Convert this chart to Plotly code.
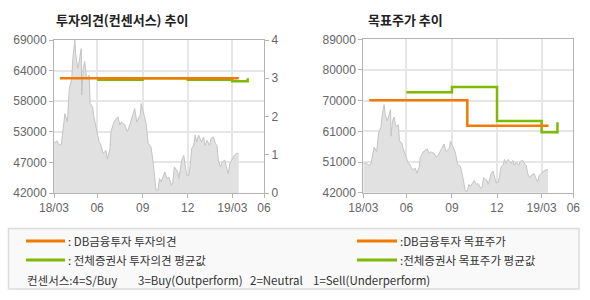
import plotly.graph_objects as go

# ---- data ----
price_dates = [
    "2018-03-06", "2018-03-08", "2018-03-12", "2018-03-15", "2018-03-19", "2018-03-21",
    "2018-03-23", "2018-03-26", "2018-03-28", "2018-04-02", "2018-04-04", "2018-04-06",
    "2018-04-11", "2018-04-13", "2018-04-17", "2018-04-19", "2018-04-23", "2018-04-26",
    "2018-04-30", "2018-05-01", "2018-05-04", "2018-05-07", "2018-05-11", "2018-05-16",
    "2018-05-18", "2018-05-23", "2018-05-25", "2018-05-31", "2018-06-05", "2018-06-08",
    "2018-06-13", "2018-06-19", "2018-06-22", "2018-06-27", "2018-06-29", "2018-07-05",
    "2018-07-10", "2018-07-13", "2018-07-17", "2018-07-20", "2018-07-27", "2018-08-01",
    "2018-08-06", "2018-08-10", "2018-08-16", "2018-08-20", "2018-08-23", "2018-08-27",
    "2018-08-29", "2018-09-03", "2018-09-05", "2018-09-08", "2018-09-12", "2018-09-18",
    "2018-09-22", "2018-09-25", "2018-09-28", "2018-10-02", "2018-10-05", "2018-10-08",
    "2018-10-12", "2018-10-16", "2018-10-20", "2018-10-24", "2018-10-29", "2018-11-01",
    "2018-11-04", "2018-11-08", "2018-11-11", "2018-11-13", "2018-11-16", "2018-11-19",
    "2018-11-23", "2018-11-26", "2018-11-29", "2018-12-03", "2018-12-06", "2018-12-09",
    "2018-12-13", "2018-12-16", "2018-12-19", "2018-12-23", "2018-12-26", "2018-12-29",
    "2019-01-02", "2019-01-05", "2019-01-09", "2019-01-14", "2019-01-17", "2019-01-22",
    "2019-01-26", "2019-01-29", "2019-02-01", "2019-02-05", "2019-02-09", "2019-02-14",
    "2019-02-17", "2019-02-21", "2019-02-24", "2019-02-28", "2019-03-05", "2019-03-10",
    "2019-03-14",
]
price_values = [
    51000, 50900, 51200, 50600, 50500, 50600,
    52200, 54000, 56000, 54550, 57500, 60450,
    62200, 65760, 69000, 66300, 64000, 65200,
    67500, 59300, 64000, 65200, 62200, 62800,
    57800, 57200, 55700, 52800, 51000, 50700,
    49000, 49500, 48000, 49850, 52800, 54550,
    55150, 55450, 54000, 54550, 54000, 52800,
    54000, 55150, 56900, 54550, 55150, 55700,
    57800, 56000, 55700, 54300, 50800, 50100,
    47500, 45100, 42500, 42500, 44550, 43950,
    44800, 45700, 44550, 44800, 43350, 43950,
    46600, 46000, 45700, 44550, 46300, 47800,
    48650, 47200, 45100, 45100, 46900, 49850,
    50400, 52200, 51000, 52200, 51600, 51000,
    51900, 50400, 51300, 50400, 51600, 51900,
    50700, 50400, 47800, 46600, 47500, 47800,
    46600, 45400, 47200, 47800, 48650, 49000,
    49000,
]

# investment opinion (consensus)
db_opinion_dates = ["2018-03-18", "2019-03-14"]
db_opinion_values = [3.0, 3.0]
avg_opinion_dates = ["2018-06-01", "2018-09-01", "2018-12-01", "2019-03-01", "2019-04-01"]
avg_opinion_values = [2.96, 3.0, 2.96, 2.92, 3.0]

# target price
db_target_dates = ["2018-03-18", "2018-10-02", "2019-03-15"]
db_target_values = [70300, 62500, 62500]
avg_target_dates = ["2018-06-01", "2018-09-01", "2018-12-01", "2019-03-01", "2019-04-02"]
avg_target_values = [72800, 74400, 64000, 60500, 63600]

x_range = ["2018-03-06", "2019-05-04"]
x_tickvals = ["2018-03-06", "2018-06-01", "2018-09-01", "2018-12-01", "2019-03-01", "2019-05-04"]
x_ticktext = ["18/03", "06", "09", "12", "19/03", "06"]

left_yvals = [42000, 47400, 52800, 58200, 63600, 69000]
left_ytext = ["42000", "47000", "53000", "58000", "64000", "69000"]
right_yvals = [42000, 51400, 60800, 70200, 79600, 89000]
right_ytext = ["42000", "51000", "61000", "70000", "80000", "89000"]
op_yvals = [0, 1, 2, 3, 4]

ORANGE = "#f27a00"
GREEN = "#7dba00"
AREA_LINE = "#c4c4c4"
AREA_FILL = "#e1e1e1"
AXIS = "#b4b4b4"
GRID = "#e6e6e6"
TICKFONT = dict(family="Liberation Sans, Arial, sans-serif", size=12, color="#666666")

fig = go.Figure()

# left chart
fig.add_trace(go.Scatter(x=price_dates, y=price_values, mode="lines", fill="tozeroy",
                         line=dict(color=AREA_LINE, width=1), fillcolor=AREA_FILL,
                         xaxis="x", yaxis="y", showlegend=False, hoverinfo="skip"))
fig.add_trace(go.Scatter(x=avg_opinion_dates, y=avg_opinion_values, mode="lines", line_shape="hv",
                         line=dict(color=GREEN, width=2.5), xaxis="x", yaxis="y2", showlegend=False))
fig.add_trace(go.Scatter(x=db_opinion_dates, y=db_opinion_values, mode="lines", line_shape="hv",
                         line=dict(color=ORANGE, width=2.5), xaxis="x", yaxis="y2", showlegend=False))

# right chart
fig.add_trace(go.Scatter(x=price_dates, y=price_values, mode="lines", fill="tozeroy",
                         line=dict(color=AREA_LINE, width=1), fillcolor=AREA_FILL,
                         xaxis="x3", yaxis="y3", showlegend=False, hoverinfo="skip"))
fig.add_trace(go.Scatter(x=avg_target_dates, y=avg_target_values, mode="lines", line_shape="hv",
                         line=dict(color=GREEN, width=2.5), xaxis="x3", yaxis="y3", showlegend=False))
fig.add_trace(go.Scatter(x=db_target_dates, y=db_target_values, mode="lines", line_shape="hv",
                         line=dict(color=ORANGE, width=2.5), xaxis="x3", yaxis="y3", showlegend=False))

W, H = 590, 300


def px(x):
    return x / W


def py(y):
    return 1 - y / H


xcommon = dict(type="date", range=x_range, tickvals=x_tickvals, ticktext=x_ticktext,
               showline=True, linecolor=AXIS, linewidth=1, mirror=True,
               showgrid=True, gridcolor=GRID, gridwidth=1.5, automargin=False,
               ticks="outside", ticklen=4, tickcolor=AXIS, tickfont=TICKFONT, zeroline=False)
ycommon = dict(showline=True, linecolor=AXIS, linewidth=1, mirror=True,
               showgrid=True, gridcolor=GRID, gridwidth=1.5, automargin=False,
               ticks="outside", ticklen=4, tickcolor=AXIS, tickfont=TICKFONT, zeroline=False)

fig.update_layout(
    width=W, height=H,
    margin=dict(l=0, r=0, t=0, b=0, autoexpand=False),
    paper_bgcolor="white", plot_bgcolor="white",
    xaxis=dict(domain=[px(54), px(264)], anchor="y", **xcommon),
    yaxis=dict(domain=[py(193), py(40)], anchor="x", range=[42000, 69000],
               tickvals=left_yvals, ticktext=left_ytext, **ycommon),
    yaxis2=dict(overlaying="y", side="right", anchor="x", range=[0, 4], tickvals=op_yvals,
                showgrid=False, showline=True, linecolor=AXIS, linewidth=1, automargin=False,
                ticks="outside", ticklen=4, tickcolor=AXIS, tickfont=TICKFONT, zeroline=False),
    xaxis3=dict(domain=[px(363.3), px(573.3)], anchor="y3", **xcommon),
    yaxis3=dict(domain=[py(192.7), py(39.3)], anchor="x3", range=[42000, 89000],
                tickvals=right_yvals, ticktext=right_ytext, **ycommon),
)

TITLEFONT = dict(family="Noto Sans CJK KR", size=13, color="#222222")
LEGFONT = dict(family="Noto Sans CJK KR", size=11.5, color="#333333")

annotations = [
    dict(text="<b>투자의견(컨센서스) 추이</b>", x=px(54), y=py(20), xanchor="left", yanchor="middle",
         font=TITLEFONT),
    dict(text="<b>목표주가 추이</b>", x=px(366), y=py(20), xanchor="left", yanchor="middle",
         font=TITLEFONT),
    dict(text=": DB금융투자 투자의견", x=px(66), y=py(241), xanchor="left", yanchor="middle", font=LEGFONT),
    dict(text=": 전체증권사 투자의견 평균값", x=px(66), y=py(260), xanchor="left", yanchor="middle", font=LEGFONT),
    dict(text=":DB금융투자 목표주가", x=px(398), y=py(241), xanchor="left", yanchor="middle", font=LEGFONT),
    dict(text=":전체증권사 목표주가 평균값", x=px(398), y=py(260), xanchor="left", yanchor="middle", font=LEGFONT),
    dict(text="컨센서스:4=S/Buy", x=px(25), y=py(280), xanchor="left", yanchor="middle", font=LEGFONT),
    dict(text="3=Buy(Outperform)", x=px(136), y=py(280), xanchor="left", yanchor="middle", font=LEGFONT),
    dict(text="2=Neutral", x=px(248), y=py(280), xanchor="left", yanchor="middle", font=LEGFONT),
    dict(text="1=Sell(Underperform)", x=px(311), y=py(280), xanchor="left", yanchor="middle", font=LEGFONT),
]
for a in annotations:
    a.update(xref="paper", yref="paper", showarrow=False)
fig.update_layout(annotations=annotations)

shapes = [
    dict(type="rect", x0=px(8.5), x1=px(579), y0=py(289), y1=py(228.5),
         fillcolor="#f9f9f9", line=dict(color="#dcdcdc", width=1.5), layer="below"),
    dict(type="line", x0=px(26), x1=px(65), y0=py(241), y1=py(241), line=dict(color=ORANGE, width=3)),
    dict(type="line", x0=px(26), x1=px(65), y0=py(260), y1=py(260), line=dict(color=GREEN, width=3)),
    dict(type="line", x0=px(357), x1=px(397), y0=py(241), y1=py(241), line=dict(color=ORANGE, width=3)),
    dict(type="line", x0=px(357), x1=px(397), y0=py(260), y1=py(260), line=dict(color=GREEN, width=3)),
]
for s in shapes:
    s.update(xref="paper", yref="paper")
fig.update_layout(shapes=shapes)

fig.write_html("out.html", post_script="document.body.style.margin='0';document.body.style.overflow='hidden';")
